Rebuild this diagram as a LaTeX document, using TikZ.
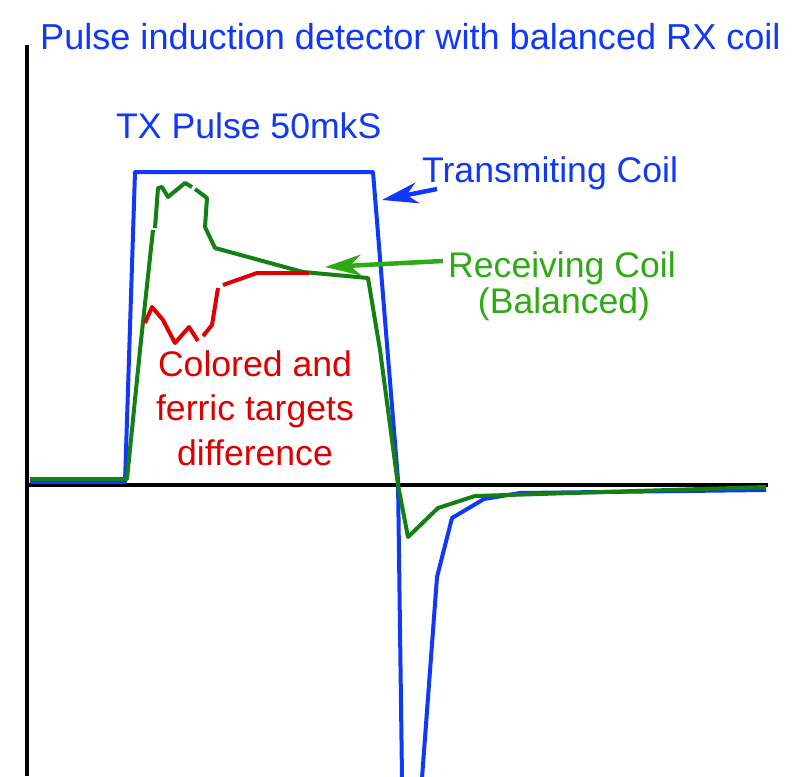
\documentclass[tikz,border=0pt]{standalone}
\usepackage{fontspec}
\setmainfont{Liberation Sans}
\usetikzlibrary{arrows.meta}
\definecolor{txblue}{RGB}{16,56,250}
\definecolor{rxgreen}{RGB}{18,128,18}
\definecolor{lblgreen}{RGB}{45,170,20}
\definecolor{diffred}{RGB}{222,0,0}

\begin{document}
\begin{tikzpicture}[x=1pt,y=-1pt,
    txline/.style={draw=txblue,line width=4pt,line join=round},
    rxline/.style={draw=rxgreen,line width=4pt,line join=round},
    diffline/.style={draw=diffred,line width=4pt,line join=round},
    lbl/.style={inner sep=0pt,font=\fontsize{35.6}{44.5}\selectfont},
    pointer/.style={line width=4.5pt,-{Stealth[length=36pt,width=21pt,inset=11pt]}}]
	\useasboundingbox (0,0) rectangle (800,776);
	% axes
	\draw[line width=4pt] (27,45)--(27,776);
	\draw[line width=4pt] (27,485)--(768,485);
	% labels
	\node[lbl,text=txblue,anchor=base west,font=\fontsize{36.1}{44}\selectfont] (title) at (40,49) {Pulse induction detector with balanced RX coil};
	\node[lbl,text=txblue,anchor=base west] (txpulse) at (116,138) {TX Pulse 50mkS};
	\node[lbl,text=txblue,anchor=base west] (txlabel) at (422,182) {Transmiting Coil};
	\node[lbl,text=lblgreen,anchor=base west] (rxlabel) at (448,277) {Receiving Coil};
	\node[lbl,text=lblgreen,anchor=base] (rxnote) at (564,313) {(Balanced)};
	\node[lbl,text=diffred,align=center,anchor=north] (difflabel) at (255,350) {Colored and\\ferric targets\\difference};
	% transmitting coil
	\draw[txline] (30,482)--(125,482)--(135,172)--(373,172)--(398,480)--(402,778);
	\draw[txline] (422,778)--(437,577)--(452,518)--(484,499)--(520,493)--(766,490);
	% receiving coil
	\draw[rxline] (30,479)--(127,479)--(140,350)--(153,230);
	\draw[rxline] (155,228)--(158,188)--(162,187)--(168,197)--(185,183)--(192,187);
	\draw[rxline] (195,189)--(207,198)--(205,227)--(215,248)--(303,272)--(368,278)--(380,350)--(398,485)--(408,537)--(438,508)--(475,496)--(766,487);
	% difference
	\draw[diffline] (145,323)--(152,307)--(163,320)--(175,343)--(189,327)--(198,341);
	\draw[diffline] (203,336)--(212,325)--(218,288);
	\draw[diffline] (223,285)--(257,273)--(309,273);
	% pointers
	\coordinate (txtail) at (437,189);
	\coordinate (txtip) at (382,200);
	\draw[pointer,txblue] (txtail)--(txtip);
	\coordinate (rxtail) at (443,261);
	\coordinate (rxtip) at (325,267);
	\draw[pointer,lblgreen] (rxtail)--(rxtip);
\end{tikzpicture}
\end{document}
